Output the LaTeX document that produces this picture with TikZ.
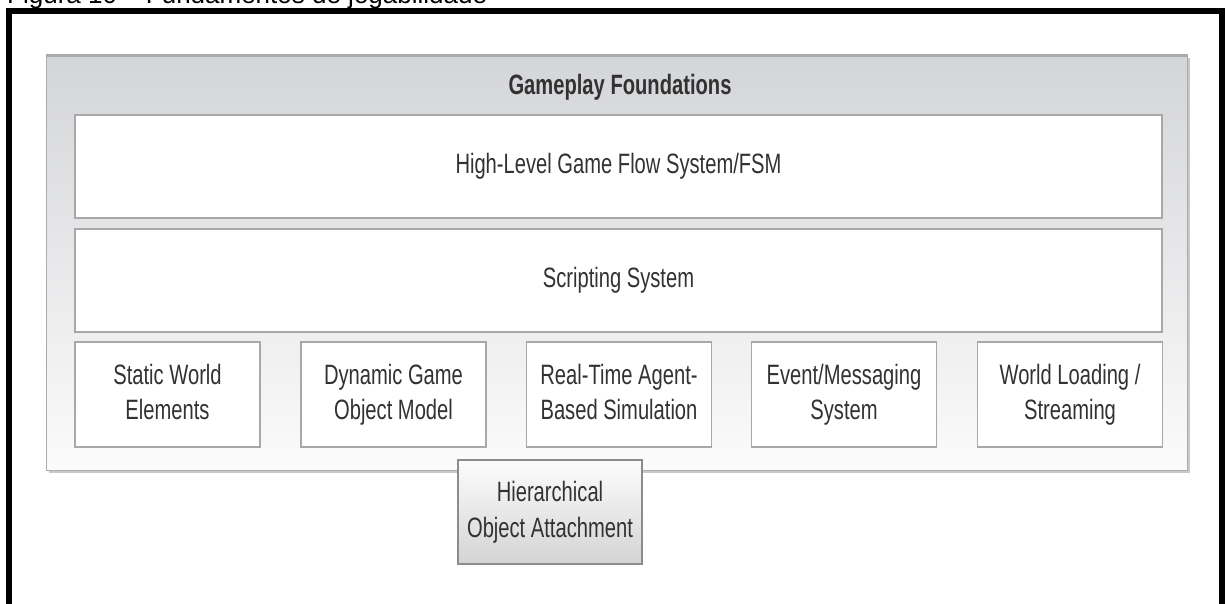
\documentclass[tikz,border=0pt]{standalone}
\usepackage{fontspec}
\setmainfont{Liberation Sans}
\newfontfamily\narrowfont[FakeStretch=0.72]{Liberation Sans}
\definecolor{panelTop}{RGB}{212,213,216}
\definecolor{panelBot}{RGB}{251,251,251}
\definecolor{panelEdge}{RGB}{170,171,174}
\definecolor{panelShadow}{RGB}{200,200,202}
\definecolor{boxline}{RGB}{168,168,168}
\definecolor{hierTop}{RGB}{252,252,252}
\definecolor{hierBot}{RGB}{212,212,213}
\definecolor{hierline}{RGB}{140,140,140}
\definecolor{txt}{RGB}{50,50,50}
\begin{document}
\begin{tikzpicture}[x=1pt,y=-1pt,
  panelbox/.style={draw=panelEdge, line width=1pt, top color=panelTop, bottom color=panelBot, inner sep=0pt},
  whitebox/.style={draw=boxline, line width=1.4pt, fill=white, inner sep=0pt, text=txt, align=center,
    font=\narrowfont\fontsize{28}{35}\selectfont},
  smallbox/.style={whitebox, minimum width=185, minimum height=105},
  hierbox/.style={draw=hierline, line width=1.4pt, top color=hierTop, bottom color=hierBot, inner sep=0pt,
    text=txt, align=center, font=\narrowfont\fontsize{28}{36}\selectfont, minimum width=184, minimum height=104},
  titletext/.style={inner sep=0pt, text=txt, font=\narrowfont\bfseries\fontsize{28}{34}\selectfont}]
\useasboundingbox (0,0) rectangle (1225,604);
\clip (0,0) rectangle (1225,604);
% caption (cut at the top of the picture)
\node[anchor=base west, inner sep=0pt, font=\fontsize{26}{30}\selectfont] (caption) at (7,3.5) {Figura 10 – Fundamentos de jogabilidade};
% black frame
\draw[line width=6pt] (9,640) -- (9,11) -- (1222,11) -- (1222,640);
% gray panel
\fill[panelShadow] (49,58) rectangle (1190,473);
\node[panelbox, minimum width=1141, minimum height=415] (panel) at (616.5,262.5) {};
\draw[panelEdge, line width=2pt] (46,56) -- (1187,56);
\node[titletext] (title) at (620,87) {Gameplay Foundations};
% wide boxes
\node[whitebox, minimum width=1087, minimum height=103] (fsm) at (618.5,166.5) {High-Level Game Flow System/FSM};
\node[whitebox, minimum width=1087, minimum height=103] (script) at (618.5,280.5) {Scripting System};
% small boxes
\node[smallbox] (static) at (167.5,394.5) {\strut Static World\\\strut Elements};
\node[smallbox] (dynamic) at (393.5,394.5) {\strut Dynamic Game\\\strut Object Model};
\node[smallbox] (agent) at (619,394.5) {\strut Real-Time Agent-\\\strut Based Simulation};
\node[smallbox] (event) at (844,394.5) {\strut Event/Messaging\\\strut System};
\node[smallbox] (world) at (1070,394.5) {\strut World Loading /\\\strut Streaming};
% hierarchical object attachment
\node[hierbox] (hier) at (550,512) {\strut Hierarchical\\\strut Object Attachment};
\end{tikzpicture}
\end{document}
